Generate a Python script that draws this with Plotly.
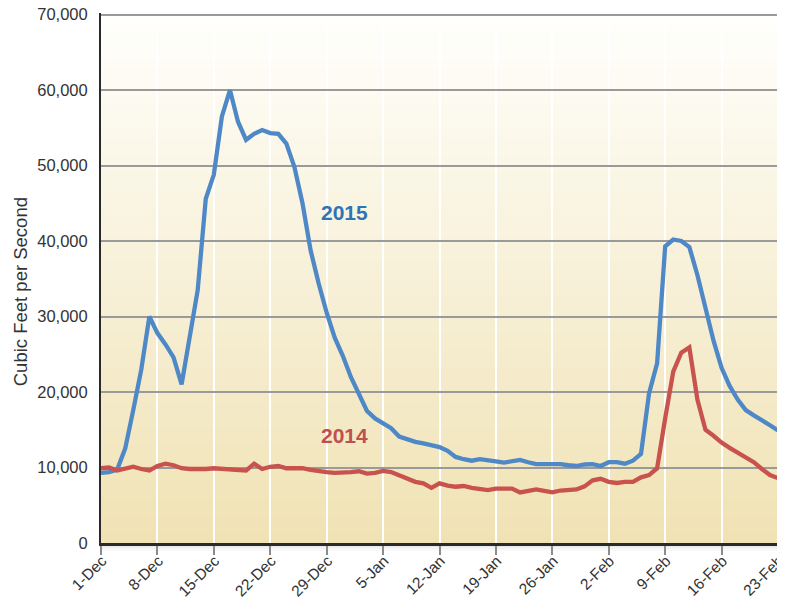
import plotly.graph_objects as go
import pandas as pd

# ---- data (daily flow, cubic feet per second) ----
start_date = "2014-12-01"
end_date = "2015-02-23"
flow_2015 = [9300, 9400, 9700, 12500, 17600, 23000, 30000, 27800, 26300, 24600,
             21000, 27000, 33500, 45600, 48800, 56500, 60000, 55800, 53400, 54200,
             54700, 54300, 54200, 52900, 49800, 45000, 38800, 34400, 30500, 27200,
             24800, 22000, 19700, 17500, 16500, 15800, 15200, 14100, 13700, 13400,
             13200, 12900, 12700, 12200, 11400, 11100, 10900, 11100, 10900, 10800,
             10650, 10800, 11000, 10700, 10450, 10450, 10450, 10450, 10300, 10200,
             10400, 10450, 10200, 10700, 10700, 10500, 10900, 11800, 19800, 23800,
             39300, 40200, 40000, 39200, 35500, 31000, 26800, 23200, 20800, 19000,
             17600, 16900, 16300, 15600, 14900]
flow_2014 = [9900, 10000, 9600, 9800, 10100, 9800, 9600, 10200, 10500, 10300,
             9900, 9800, 9750, 9800, 9900, 9800, 9750, 9700, 9600, 10500,
             9800, 10100, 10200, 9900, 9900, 9900, 9700, 9500, 9400, 9300,
             9300, 9400, 9500, 9200, 9300, 9550, 9400, 9000, 8600, 8100,
             7900, 7300, 7900, 7600, 7450, 7550, 7300, 7100, 7000, 7200,
             7200, 7200, 6700, 6900, 7100, 6900, 6700, 6950, 7050, 7100,
             7500, 8300, 8500, 8100, 7950, 8100, 8100, 8700, 9000, 9900,
             16500, 22700, 25200, 25900, 19000, 15000, 14200, 13300, 12600, 12000,
             11300, 10700, 9800, 9000, 8600]
tick_dates = ["2014-12-01", "2014-12-08", "2014-12-15", "2014-12-22", "2014-12-29",
              "2015-01-05", "2015-01-12", "2015-01-19", "2015-01-26", "2015-02-02",
              "2015-02-09", "2015-02-16", "2015-02-23"]
tick_labels = ["1-Dec", "8-Dec", "15-Dec", "22-Dec", "29-Dec", "5-Jan", "12-Jan",
               "19-Jan", "26-Jan", "2-Feb", "9-Feb", "16-Feb", "23-Feb"]
y_ticks = [0, 10000, 20000, 30000, 40000, 50000, 60000, 70000]
y_max = 70200

dates = pd.date_range(start_date, end_date, freq="D")

FONT = "Liberation Sans, Arial, sans-serif"
BLUE = "#4F88C6"
RED = "#C8524D"

# page body has an 8px margin, so the figure is sized/placed to compensate
W, H = 777, 591
ML, MR, MT, MB = 93, 7, 4.5, 56
PW, PH = W - ML - MR, H - MT - MB
Y_FRAC = 70000 / y_max  # fraction of plot height occupied by 0..70,000

fig = go.Figure()
fig.add_trace(go.Scatter(x=dates, y=flow_2015, mode="lines", name="2015",
                         line=dict(color=BLUE, width=4.3), showlegend=False))
fig.add_trace(go.Scatter(x=dates, y=flow_2014, mode="lines", name="2014",
                         line=dict(color=RED, width=4.3), showlegend=False))

# gradient background bands (white at top -> tan at bottom)
shapes = []
n = 60
top = (255, 255, 252)
bot = (240, 226, 180)
for i in range(n):
    t = (i + 0.5) / n
    c = tuple(int(round(bot[k] + (top[k] - bot[k]) * t)) for k in range(3))
    shapes.append(dict(type="rect", xref="x domain", yref="y domain",
                       x0=0, x1=1, y0=i / n * Y_FRAC,
                       y1=min((i + 1) / n * Y_FRAC + 0.002, Y_FRAC),
                       fillcolor="rgb(%d,%d,%d)" % c, line=dict(width=0),
                       layer="below"))
# right edge shadow
for j, a in enumerate([0.22, 0.14, 0.08, 0.04]):
    shapes.append(dict(type="rect", xref="paper", yref="paper",
                       x0=1 + j * 1.6 / PW, x1=1 + (j + 1) * 1.6 / PW,
                       y0=0, y1=0.99 * Y_FRAC, fillcolor="rgba(0,0,0,%.2f)" % a,
                       line=dict(width=0), layer="above"))
# bottom shadow
for j, a in enumerate([0.14, 0.09, 0.05, 0.025]):
    shapes.append(dict(type="rect", xref="paper", yref="paper",
                       x0=0, x1=1.01, y0=-(j + 1) * 2 / PH, y1=-j * 2 / PH,
                       fillcolor="rgba(0,0,0,%.3f)" % a,
                       line=dict(width=0), layer="below"))

fig.update_layout(
    width=W, height=H,
    margin=dict(l=ML, r=MR, t=MT, b=MB, autoexpand=False),
    paper_bgcolor="white",
    plot_bgcolor="rgba(0,0,0,0)",
    font=dict(family=FONT, size=15, color="#333333"),
    shapes=shapes,
    annotations=[
        dict(text="<b>2015</b>", xref="paper", yref="paper", x=0.3604,
             y=331 / PH, showarrow=False,
             font=dict(size=21, color="#2F74B5", family=FONT)),
        dict(text="<b>2014</b>", xref="paper", yref="paper", x=0.3604,
             y=94 / PH, showarrow=False,
             font=dict(size=21, color="#C0504D", family=FONT)),
        dict(text="Cubic Feet per Second", xref="paper", yref="paper",
             x=-81 / PW, y=251 / PH, textangle=-90, showarrow=False,
             xanchor="center", yanchor="middle",
             font=dict(size=18.5, color="#333333", family=FONT)),
    ],
)
fig.update_xaxes(
    range=[dates[0], dates[-1]], automargin=False,
    tickmode="array", tickvals=tick_dates, ticktext=tick_labels,
    tickangle=-45, ticks="outside", ticklen=9, tickwidth=2, tickcolor="#8c8c8c",
    tickfont=dict(size=15.5, color="#333333"),
    ticklabeloverflow="allow", ticklabelstandoff=-9, ticklabelshift=1,
    showgrid=True, gridcolor="white", gridwidth=2,
    showline=True, linecolor="#2a2a2a", linewidth=2.5,
    zeroline=False,
)
fig.update_yaxes(
    range=[0, y_max], automargin=False, tickmode="array", tickvals=y_ticks,
    tickformat=",d", ticklabeloverflow="allow",
    tickfont=dict(size=16.5, color="#333333"),
    showgrid=True, gridcolor="#9a9a9a", gridwidth=1.5,
    showline=True, linecolor="#2a2a2a", linewidth=2,
    zeroline=False, ticks="", ticklabelstandoff=8,
)

fig.write_html("out.html")
